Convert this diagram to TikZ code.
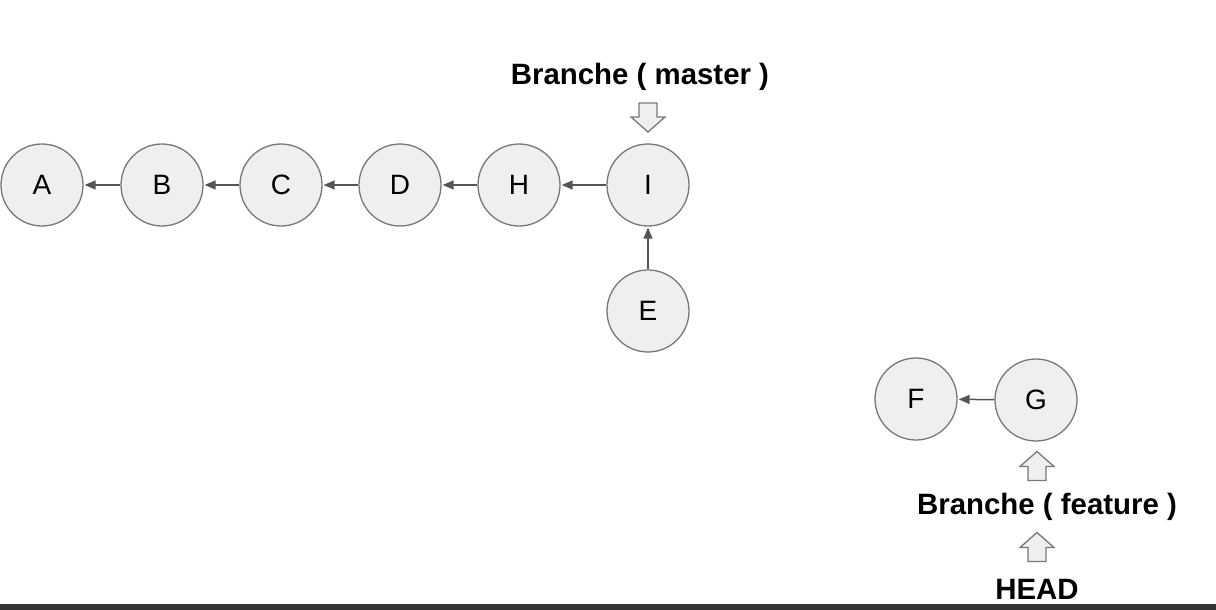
\documentclass[tikz,border=0pt]{standalone}
\usepackage{fontspec}
\setmainfont{Liberation Sans}
\usepackage{xcolor}
\definecolor{commitfill}{RGB}{239,239,239}
\definecolor{commitline}{RGB}{120,120,120}
\definecolor{linkcol}{RGB}{85,85,85}
\definecolor{barcol}{RGB}{51,51,51}
\usepackage{tikz}
\usetikzlibrary{positioning, arrows.meta, calc}
\tikzstyle{commit} = [
    circle, draw=commitline, fill=commitfill, line width=1.3pt,
    minimum size=82pt, inner sep=0pt,
    font=\fontsize{28}{30}\selectfont,
]
\tikzstyle{branch} = [
    font=\bfseries\fontsize{29.4}{32}\selectfont, inner sep=0pt,
]
\tikzstyle{arrow} = [-{Triangle[length=11pt,width=9pt]}, draw=linkcol, line width=1.5pt, shorten >=1pt]
\tikzset{
    blockup/.pic={
        \draw[commitline, fill=commitfill, line width=1.3pt, line join=miter]
            (0,-14.5) -- (17,0.5) -- (9,0.5) -- (9,14.5) -- (-9,14.5)
            -- (-9,0.5) -- (-17,0.5) -- cycle;
    },
}

\begin{document}
\begin{tikzpicture}[x=1pt, y=-1pt]
    \useasboundingbox (0,0) rectangle (1216,610);
    % master line
    \node at (42, 185) [commit] (A) {A};
    \node at (162, 185) [commit] (B) {B};
    \node at (281, 185) [commit] (C) {C};
    \node at (400, 185) [commit] (D) {D};
    \node at (519, 185) [commit] (H) {H};
    \node at (648, 185) [commit] (I) {I};
    \node at (648, 311) [commit] (E) {E};

    % feature line
    \node at (916, 399) [commit] (F) {F};
    \node at (1036, 400) [commit] (G) {G};

    \draw[arrow] (B) -- (A);
    \draw[arrow] (C) -- (B);
    \draw[arrow] (D) -- (C);
    \draw[arrow] (H) -- (D);
    \draw[arrow] (I) -- (H);
    \draw[arrow] (E) -- (I);
    \draw[arrow] (G) -- (F);

    % labels
    \node at (640, 77) [branch] (master) {Branche ( master )};
    \pic[rotate=180] at (648, 117.5) {blockup};

    \pic at (1037, 466) {blockup};
    \node at (1047, 507) [branch] (feature) {Branche ( feature )};
    \pic at (1037, 547) {blockup};
    \node at (1037, 589) [branch] (head) {HEAD};

    \fill[barcol] (0,604) rectangle (1216,610);
\end{tikzpicture}
\end{document}
